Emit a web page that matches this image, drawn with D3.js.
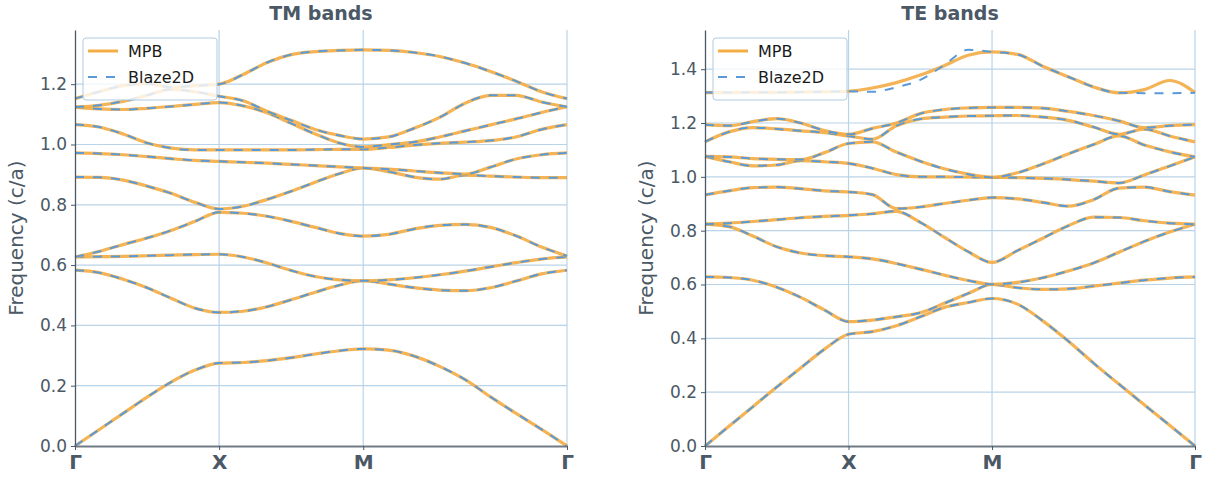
<!DOCTYPE html>
<html>
<head>
<meta charset="UTF-8">
<title>TM / TE bands</title>
<script src="https://cdn.jsdelivr.net/npm/d3@7"></script>
<style>
  body { margin: 0; background: #fff; }
  svg text { font-family: "DejaVu Sans", sans-serif; }
</style>
</head>
<body>
<svg width="1207" height="477"></svg>
<script>
// k-path distance (Γ -> X -> M -> Γ), sample points shared by every band
var kPath = [0, 0.0833, 0.1667, 0.25, 0.3333, 0.4167, 0.5,
             0.5833, 0.6667, 0.75, 0.8333, 0.9167, 1.0,
             1.0884, 1.1768, 1.2652, 1.3536, 1.4419, 1.5303, 1.6187, 1.7071];
var symK = [0, 0.5, 1.0, 1.7071];
var symLabels = ["Γ", "X", "M", "Γ"];

var tmTicks = [0, 0.2, 0.4, 0.6, 0.8, 1.0, 1.2];
var teTicks = [0, 0.2, 0.4, 0.6, 0.8, 1.0, 1.2, 1.4];

// TM bands, MPB (frequency c/a)
var tmMpb = [
  [0, 0.054, 0.108, 0.162, 0.212, 0.252, 0.275, 0.277, 0.283, 0.293, 0.305, 0.316, 0.322, 0.318, 0.298, 0.264, 0.22, 0.163, 0.108, 0.055, 0],
  [0.583, 0.575, 0.553, 0.525, 0.49, 0.457, 0.443, 0.447, 0.462, 0.485, 0.51, 0.533, 0.548, 0.537, 0.525, 0.517, 0.515, 0.525, 0.547, 0.571, 0.583],
  [0.627, 0.628, 0.629, 0.631, 0.633, 0.635, 0.636, 0.627, 0.607, 0.582, 0.562, 0.551, 0.548, 0.551, 0.558, 0.568, 0.58, 0.594, 0.608, 0.62, 0.627],
  [0.627, 0.645, 0.668, 0.69, 0.715, 0.745, 0.775, 0.772, 0.762, 0.745, 0.725, 0.705, 0.696, 0.702, 0.72, 0.732, 0.735, 0.725, 0.697, 0.66, 0.63],
  [0.892, 0.891, 0.882, 0.862, 0.838, 0.808, 0.786, 0.795, 0.818, 0.845, 0.875, 0.903, 0.922, 0.91, 0.892, 0.885, 0.898, 0.895, 0.892, 0.89, 0.89],
  [0.972, 0.97, 0.966, 0.96, 0.953, 0.947, 0.944, 0.941, 0.938, 0.934, 0.93, 0.926, 0.922, 0.918, 0.912, 0.906, 0.902, 0.925, 0.952, 0.966, 0.972],
  [1.066, 1.058, 1.035, 1.005, 0.988, 0.982, 0.982, 0.982, 0.982, 0.982, 0.983, 0.984, 0.984, 0.99, 0.998, 1.004, 1.008, 1.013, 1.025, 1.05, 1.066],
  [1.124, 1.118, 1.116, 1.12, 1.126, 1.133, 1.139, 1.128, 1.105, 1.07, 1.035, 1.005, 0.992, 1.0, 1.008, 1.025, 1.045, 1.065, 1.085, 1.106, 1.125],
  [1.124, 1.13, 1.143, 1.163, 1.183, 1.175, 1.16, 1.145, 1.11, 1.08, 1.05, 1.03, 1.018, 1.025, 1.054, 1.09, 1.137, 1.163, 1.163, 1.141, 1.125],
  [1.152, 1.175, 1.195, 1.202, 1.19, 1.195, 1.2, 1.232, 1.272, 1.298, 1.308, 1.312, 1.314, 1.312, 1.305, 1.292, 1.27, 1.242, 1.21, 1.175, 1.152]
];

// TE bands, MPB
var teMpb = [
  [0, 0.073, 0.146, 0.219, 0.29, 0.36, 0.415, 0.425, 0.447, 0.48, 0.515, 0.533, 0.548, 0.527, 0.465, 0.39, 0.308, 0.23, 0.153, 0.077, 0],
  [0.628, 0.626, 0.616, 0.59, 0.552, 0.505, 0.462, 0.468, 0.48, 0.495, 0.53, 0.567, 0.6, 0.588, 0.582, 0.584, 0.594, 0.605, 0.616, 0.624, 0.628],
  [0.824, 0.815, 0.78, 0.74, 0.717, 0.707, 0.703, 0.695, 0.678, 0.657, 0.635, 0.615, 0.601, 0.608, 0.625, 0.65, 0.68, 0.72, 0.76, 0.795, 0.824],
  [0.824, 0.828, 0.834, 0.841, 0.848, 0.853, 0.857, 0.863, 0.872, 0.831, 0.776, 0.722, 0.682, 0.726, 0.772, 0.818, 0.85, 0.849, 0.837, 0.828, 0.824],
  [0.933, 0.948, 0.96, 0.962, 0.956, 0.948, 0.944, 0.934, 0.882, 0.888, 0.901, 0.913, 0.923, 0.918, 0.905, 0.891, 0.915, 0.958, 0.962, 0.945, 0.932],
  [1.076, 1.056, 1.041, 1.044, 1.06, 1.056, 1.05, 1.032, 1.008, 1.0, 1.0, 0.999, 0.998, 0.997, 0.994, 0.99, 0.984, 0.977, 1.007, 1.04, 1.074],
  [1.076, 1.074, 1.068, 1.065, 1.064, 1.09, 1.124, 1.13, 1.092, 1.058, 1.03, 1.01, 0.998, 1.015, 1.048, 1.085, 1.12, 1.152, 1.118, 1.093, 1.074],
  [1.13, 1.167, 1.183, 1.178, 1.171, 1.164, 1.152, 1.14, 1.19, 1.215, 1.222, 1.226, 1.227, 1.228, 1.222, 1.21, 1.185, 1.158, 1.177, 1.152, 1.13],
  [1.194, 1.19, 1.205, 1.216, 1.2, 1.172, 1.158, 1.18, 1.2, 1.235, 1.25, 1.256, 1.258, 1.258, 1.255, 1.243, 1.228, 1.208, 1.183, 1.19, 1.194],
  [1.313, 1.313, 1.314, 1.314, 1.315, 1.316, 1.318, 1.33, 1.35, 1.378, 1.413, 1.452, 1.464, 1.455, 1.411, 1.372, 1.334, 1.312, 1.324, 1.358, 1.313]
];

// Blaze2D agrees with MPB except for the top TE band
var teBlazeTop = [1.313, 1.313, 1.314, 1.314, 1.315, 1.316, 1.318, 1.316, 1.333, 1.36, 1.415, 1.472, 1.464, 1.455, 1.411, 1.372, 1.334, 1.312, 1.311, 1.311, 1.312];
var tmBlaze = tmMpb;
var teBlaze = teMpb.slice(0, 9).concat([teBlazeTop]);

var svg = d3.select("svg");
var orange = "#f3ad45";
var blue = "#5a9ad6";
var ink = "#4b5866";
var gridCol = "#b9d3e8";
var plotTop = 30, plotBottom = 446;

function drawPanel(left, right, title, mpb, blaze, ticks) {
  var x = d3.scaleLinear().domain([0, kPath[kPath.length - 1]]).range([left, right]);
  var ymax = d3.max(mpb.concat(blaze), function(b) { return d3.max(b); }) * 1.05;
  var y = d3.scaleLinear().domain([0, ymax]).range([plotBottom, plotTop]);
  var g = svg.append("g");

  // grid
  g.selectAll(".hg").data(ticks.slice(1)).enter().append("line")
    .attr("x1", left).attr("x2", right)
    .attr("y1", function(d) { return y(d); }).attr("y2", function(d) { return y(d); })
    .attr("stroke", gridCol).attr("stroke-width", 1.2);
  g.selectAll(".vg").data(symK.slice(1)).enter().append("line")
    .attr("x1", function(d) { return x(d); }).attr("x2", function(d) { return x(d); })
    .attr("y1", plotTop).attr("y2", plotBottom)
    .attr("stroke", gridCol).attr("stroke-width", 1.2);

  var line = d3.line()
    .x(function(d, i) { return x(kPath[i]); })
    .y(function(d) { return y(d); })
    .curve(d3.curveMonotoneX);

  mpb.forEach(function(band, i) {
    g.append("path").attr("d", line(band))
      .attr("fill", "none").attr("stroke", orange)
      .attr("stroke-width", 3.2).attr("stroke-opacity", 0.92);
    g.append("path").attr("d", line(blaze[i]))
      .attr("fill", "none").attr("stroke", blue)
      .attr("stroke-width", 2).attr("stroke-dasharray", "9,9");
  });

  // axes
  var ya = g.append("g").attr("transform", "translate(" + left + ",0)")
    .call(d3.axisLeft(y).tickValues(ticks).tickFormat(d3.format(".1f")).tickSize(4).tickSizeOuter(0).tickPadding(4));
  ya.select(".domain").attr("stroke", ink).attr("stroke-width", 1.3);
  ya.selectAll(".tick line").attr("stroke", ink);
  ya.selectAll("text").attr("fill", ink).style("font-size", "17px");

  var xa = g.append("g").attr("transform", "translate(0," + plotBottom + ")")
    .call(d3.axisBottom(x).tickValues(symK).tickFormat(function(d, i) { return symLabels[i]; }).tickSize(4).tickSizeOuter(0).tickPadding(5));
  xa.select(".domain").attr("stroke", "#707b86").attr("stroke-width", 2);
  xa.selectAll(".tick line").attr("stroke", ink);
  xa.selectAll("text").attr("fill", ink).style("font-size", "20px").style("font-weight", "bold");

  g.append("text").attr("x", (left + right) / 2).attr("y", 20)
    .attr("text-anchor", "middle").attr("fill", ink)
    .style("font-size", "19px").style("font-weight", "bold").text(title);

  g.append("text")
    .attr("transform", "translate(" + (left - 52) + "," + ((plotTop + plotBottom) / 2) + ") rotate(-90)")
    .attr("text-anchor", "middle").attr("fill", ink)
    .style("font-size", "20px").text("Frequency (c/a)");

  // legend
  var lx = left + 8, ly = 38;
  var lg = g.append("g");
  lg.append("rect").attr("x", lx).attr("y", ly).attr("width", 134).attr("height", 62)
    .attr("rx", 3).attr("fill", "#fff").attr("fill-opacity", 0.8)
    .attr("stroke", "#aecbe3").attr("stroke-width", 1);
  var entries = [["MPB", orange, 3, null], ["Blaze2D", blue, 2, "9,9"]];
  entries.forEach(function(e, i) {
    var yy = ly + 13 + i * 26;
    lg.append("line").attr("x1", lx + 5).attr("x2", lx + 35)
      .attr("y1", yy).attr("y2", yy)
      .attr("stroke", e[1]).attr("stroke-width", e[2])
      .attr("stroke-dasharray", e[3]);
    lg.append("text").attr("x", lx + 45).attr("y", yy + 6)
      .attr("fill", "#1a1a1a").style("font-size", "16px").text(e[0]);
  });
}

drawPanel(75, 567, "TM bands", tmMpb, tmBlaze, tmTicks);
drawPanel(705, 1195, "TE bands", teMpb, teBlaze, teTicks);
</script>
</body>
</html>
